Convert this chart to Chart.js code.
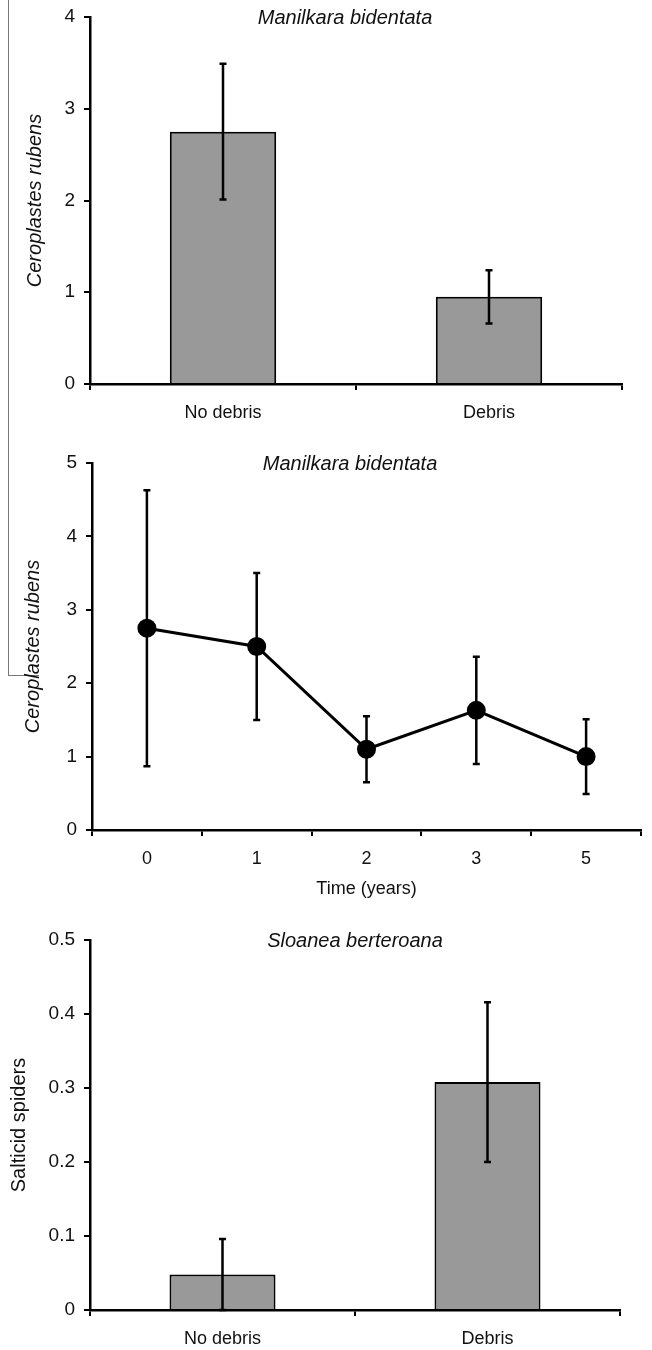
<!DOCTYPE html>
<html>
<head>
<meta charset="utf-8">
<script src="https://cdn.jsdelivr.net/npm/chart.js@4.4.1/dist/chart.umd.min.js"></script>
<style>
    body { margin: 0; background: #fff; }
    #wrap { position: relative; width: 652px; height: 1350px; overflow: hidden; }
    .panel { position: absolute; left: 0; width: 652px; }
    /* thin scan line on the left of the original figure */
    #scan { position: absolute; left: 8px; top: 0; width: 30px; height: 675px;
            border-left: 1px solid #777; border-bottom: 1px solid #777; }
</style>
</head>
<body>
<div id="wrap">
    <div id="scan"></div>
    <div class="panel" style="top:0"><canvas id="c1" width="652" height="440"></canvas></div>
    <div class="panel" style="top:440px"><canvas id="c2" width="652" height="460"></canvas></div>
    <div class="panel" style="top:900px"><canvas id="c3" width="652" height="450"></canvas></div>
</div>
<script>
// ===== DATA =====
const debrisLabels = ["No debris", "Debris"];
const scaleMeans = [2.75, 0.95];
const scaleErr = [0.74, 0.29];

const years = ["0", "1", "2", "3", "5"];
const scaleByYear = [2.75, 2.5, 1.1, 1.63, 1.0];
const scaleByYearErr = [1.88, 1.0, 0.45, 0.73, 0.51];

const spiderMeans = [0.048, 0.308];
const spiderErr = [0.048, 0.108];

const FONT = "'Liberation Sans', Arial, Helvetica, sans-serif";
Chart.defaults.font.family = FONT;
Chart.defaults.font.size = 18;
Chart.defaults.color = "#111";

// ===== PLUGINS =====
function drawErrors(chart) {
    const ctx = chart.ctx;
    const y = chart.scales.y;
    chart.data.datasets.forEach((ds, i) => {
        if (!ds.errors) return;
        chart.getDatasetMeta(i).data.forEach((el, j) => {
            const hi = y.getPixelForValue(ds.data[j] + ds.errors[j]);
            const lo = y.getPixelForValue(ds.data[j] - ds.errors[j]);
            ctx.save();
            ctx.strokeStyle = "#000";
            ctx.lineWidth = 2.5;
            ctx.beginPath();
            ctx.moveTo(el.x, hi); ctx.lineTo(el.x, lo);
            ctx.moveTo(el.x - 3.5, hi); ctx.lineTo(el.x + 3.5, hi);
            ctx.moveTo(el.x - 3.5, lo); ctx.lineTo(el.x + 3.5, lo);
            ctx.stroke();
            ctx.restore();
        });
    });
}

const errorBars = {
    id: "errorBars",
    beforeDatasetsDraw(chart, args, opts) { if (opts.under) drawErrors(chart); },
    afterDatasetsDraw(chart, args, opts) { if (!opts.under) drawErrors(chart); }
};

const panelTitle = {
    id: "panelTitle",
    afterDraw(chart, args, opts) {
        const ctx = chart.ctx;
        ctx.save();
        ctx.font = "italic 20px " + FONT;
        ctx.fillStyle = "#111";
        ctx.textAlign = "center";
        ctx.textBaseline = "middle";
        ctx.fillText(opts.text, opts.x, chart.chartArea.top + 1);
        ctx.restore();
    }
};

// ===== AXES =====
function xAxis(h, title) {
    return {
        type: "category",
        offset: true,
        afterFit: s => { s.height = h; },
        grid: { offset: true, drawOnChartArea: false, color: "#000", lineWidth: 2, tickLength: 6 },
        border: { color: "#000", width: 2.5 },
        ticks: { padding: 12, maxRotation: 0 },
        title: title ? { display: true, text: title, padding: { top: -7, bottom: 0 } } : { display: false }
    };
}

function yAxis(max, step, title, italic, w, pad) {
    return {
        min: 0,
        max: max,
        afterFit: s => { s.width = w; s.paddingTop = 0; },
        grid: { drawOnChartArea: false, color: "#000", lineWidth: 2, tickLength: 6 },
        border: { color: "#000", width: 2.5 },
        ticks: { stepSize: step, padding: 9, font: { size: 19 } },
        title: {
            display: true, text: title,
            font: { style: italic ? "italic" : "normal", size: 20 },
            padding: { top: pad, bottom: 0 }
        }
    };
}

// ===== PANEL 1 =====
new Chart(document.getElementById("c1"), {
    type: "bar",
    data: {
        labels: debrisLabels,
        datasets: [{
            data: scaleMeans,
            errors: scaleErr,
            backgroundColor: "#999999",
            borderColor: "#000",
            borderWidth: 2,
            barPercentage: 0.4,
            categoryPercentage: 1
        }]
    },
    options: {
        responsive: false,
        animation: false,
        layout: { padding: { top: 17, right: 30, left: 0, bottom: 0 } },
        plugins: {
            legend: { display: false },
            tooltip: { enabled: false },
            panelTitle: { text: "Manilkara bidentata", x: 345 },
            errorBars: { under: false }
        },
        scales: {
            x: xAxis(56),
            y: yAxis(4, 1, "Ceroplastes rubens", true, 90, 23)
        }
    },
    plugins: [errorBars, panelTitle]
});

// ===== PANEL 2 =====
new Chart(document.getElementById("c2"), {
    type: "line",
    data: {
        labels: years,
        datasets: [{
            data: scaleByYear,
            errors: scaleByYearErr,
            borderColor: "#000",
            borderWidth: 3,
            pointRadius: 8,
            pointBackgroundColor: "#000",
            pointBorderColor: "#000",
            tension: 0,
            fill: false
        }]
    },
    options: {
        responsive: false,
        animation: false,
        layout: { padding: { top: 23, right: 1, left: 0, bottom: 0 } },
        plugins: {
            legend: { display: false },
            tooltip: { enabled: false },
            panelTitle: { text: "Manilkara bidentata", x: 350 },
            errorBars: { under: true }
        },
        scales: {
            x: xAxis(70, "Time (years)"),
            y: yAxis(5, 1, "Ceroplastes rubens", true, 92, 21)
        }
    },
    plugins: [errorBars, panelTitle]
});

// ===== PANEL 3 =====
new Chart(document.getElementById("c3"), {
    type: "bar",
    data: {
        labels: debrisLabels,
        datasets: [{
            data: spiderMeans,
            errors: spiderErr,
            backgroundColor: "#999999",
            borderColor: "#000",
            borderWidth: 2,
            barPercentage: 0.4,
            categoryPercentage: 1
        }]
    },
    options: {
        responsive: false,
        animation: false,
        layout: { padding: { top: 40, right: 32, left: 0, bottom: 0 } },
        plugins: {
            legend: { display: false },
            tooltip: { enabled: false },
            panelTitle: { text: "Sloanea berteroana", x: 355 },
            errorBars: { under: false }
        },
        scales: {
            x: xAxis(40),
            y: yAxis(0.5, 0.1, "Salticid spiders", false, 90, 7)
        }
    },
    plugins: [errorBars, panelTitle]
});
</script>
</body>
</html>
